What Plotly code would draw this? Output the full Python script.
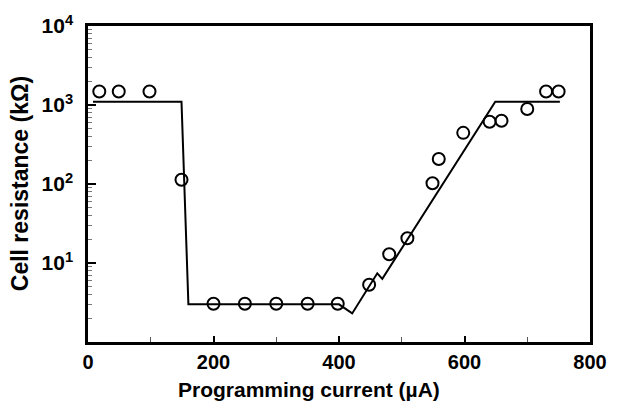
import plotly.graph_objects as go

# Measured cell resistance vs. programming current
current_meas = [18, 49, 98, 149, 200, 250, 300, 350, 398, 448, 480, 509, 549, 559, 598, 640, 659, 700, 730, 750]
resistance_meas = [1480, 1480, 1480, 113, 3.05, 3.05, 3.05, 3.05, 3.05, 5.3, 12.9, 20.6, 102, 207, 444, 614, 631, 891, 1480, 1480]

# Simulated resistance curve
current_model = [8, 149, 160, 400, 421, 461, 469, 649, 752]
resistance_model = [1100, 1100, 3.0, 3.0, 2.3, 7.4, 6.3, 1100, 1100]

# Axis ticks
x_tickvals = [0, 200, 400, 600, 800]
y_tickvals = [10, 100, 1000, 10000]
y_ticktext = ["10<sup>1</sup>", "10<sup>2</sup>", "10<sup>3</sup>", "10<sup>4</sup>"]

FONT = "Liberation Sans, Arial, sans-serif"

fig = go.Figure()
fig.add_trace(go.Scatter(
    x=current_model, y=resistance_model, mode="lines",
    line=dict(color="black", width=2), showlegend=False,
))
fig.add_trace(go.Scatter(
    x=current_meas, y=resistance_meas, mode="markers",
    marker=dict(symbol="circle-open", size=12, color="black", line=dict(width=2)),
    showlegend=False,
))

fig.update_layout(
    width=619, height=405,
    margin=dict(l=88, r=19, t=12, b=63),
    paper_bgcolor="white", plot_bgcolor="white",
    font=dict(family=FONT, color="black"),
    xaxis=dict(
        range=[0, 800], tickvals=x_tickvals, ticktext=[str(v) for v in x_tickvals],
        ticks="inside", ticklen=6, tickwidth=1.5, tickcolor="black",
        minor=dict(tickvals=[100, 300, 500, 700], ticks="inside", ticklen=5, tickwidth=1, tickcolor="#555"),
        showline=True, linecolor="black", linewidth=2.5, mirror=True,
        showgrid=False, zeroline=False,
        tickfont=dict(family=FONT, size=20, color="black", weight="bold"),
    ),
    yaxis=dict(
        type="log", range=[0, 4], tickvals=y_tickvals, ticktext=y_ticktext,
        ticks="inside", ticklen=8, tickwidth=1.5, tickcolor="black",
        minor=dict(dtick="D1", ticks="inside", ticklen=4, tickwidth=1, tickcolor="#777"),
        showline=True, linecolor="black", linewidth=2.5, mirror=True,
        showgrid=False, zeroline=False, ticklabelstandoff=8,
        tickfont=dict(family=FONT, size=21, color="black", weight="bold"),
    ),
    annotations=[
        dict(text="Programming current (µA)", xref="paper", yref="paper",
             x=0.441, y=-0.1495, xanchor="center", yanchor="middle", showarrow=False,
             font=dict(family=FONT, size=21, color="black", weight="bold")),
        dict(text="Cell resistance (kΩ)", xref="paper", yref="paper",
             x=-0.135, y=0.5, xanchor="center", yanchor="middle", showarrow=False,
             textangle=-90,
             font=dict(family=FONT, size=23, color="black", weight="bold")),
    ],
)

fig.write_html("out.html")
